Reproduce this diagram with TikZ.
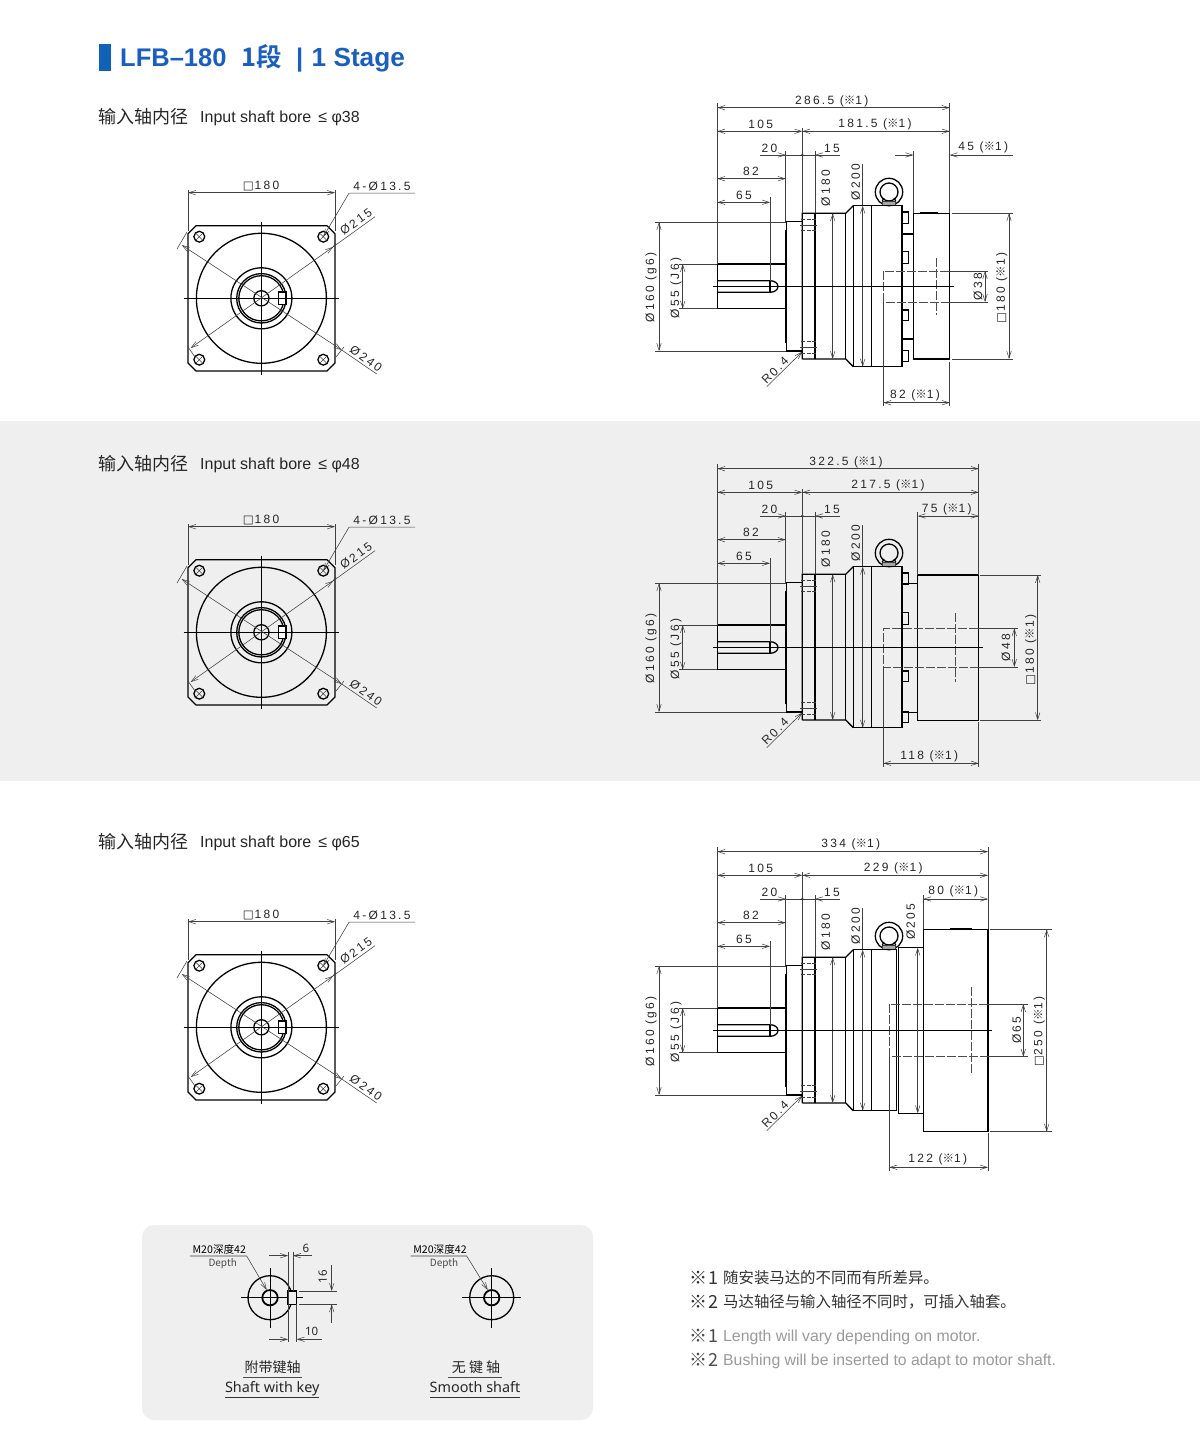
\documentclass[tikz,border=0pt]{standalone}
\usepackage{fontspec}
\usetikzlibrary{arrows.meta}
\setmainfont{Liberation Sans}
\newfontfamily\cjk{Noto Sans CJK SC}
\newfontfamily\cjkb{Noto Sans CJK SC Bold}
\newfontfamily\symf{DejaVu Sans}
\newfontfamily\dimfont[LetterSpace=19]{Liberation Sans}
\newfontfamily\panelfont{Noto Sans}
\definecolor{band}{HTML}{EFEFEF}
\definecolor{bluetitle}{HTML}{1B5FBE}
\definecolor{bluebar}{HTML}{0F62B5}
\definecolor{notegray}{HTML}{9A9A9A}
\newcommand\km{{\cjkb\fontsize{11.5}{10}\selectfont ※}}
\newcommand\sq{{\symf\fontsize{11.5}{10}\selectfont □}\hspace{1pt}}
\tikzset{
  outl/.style={line width=1.3pt,draw=black,line join=miter},
  thick2/.style={line width=2.2pt,draw=black},
  dimln/.style={line width=.55pt,draw=black!75},
  cent/.style={line width=.7pt,draw=black},
  hid/.style={line width=.8pt,draw=black!70,dash pattern=on 9pt off 2pt},
  tipb/.tip={Straight Barb[length=7pt,width=4.5pt,line width=.5pt]},
  dimb/.style={dimln,{tipb}-{tipb}},
  dime/.style={dimln,-{tipb}},
  dimtxt/.style={inner sep=0pt,font=\dimfont\fontsize{12}{12}\selectfont,text=black!85},
  pdim/.style={inner sep=0pt,font=\panelfont\fontsize{11.5}{11}\selectfont,text=black!85},
  lead/.style={inner sep=0pt,font=\cjk\fontsize{10.6}{11}\selectfont,text=black},
  subcn/.style={inner sep=0pt,anchor=base west,font=\cjk\fontsize{18}{18}\selectfont,text=black!85},
  suben/.style={inner sep=0pt,anchor=base west,font=\fontsize{16}{16}\selectfont,text=black!85},
  capcn/.style={inner sep=0pt,font=\cjk\fontsize{14}{14}\selectfont,text=black!85},
  capen/.style={inner sep=0pt,anchor=base,font=\panelfont\fontsize{14.4}{15}\selectfont,text=black!85},
  titl/.style={inner sep=0pt,anchor=base west,font=\bfseries\fontsize{25.5}{26}\selectfont,text=bluetitle},
  notecn/.style={inner sep=0pt,anchor=west,font=\cjk\fontsize{15.4}{16}\selectfont,text=black!80},
  noteen/.style={inner sep=0pt,anchor=base west,font=\fontsize{15.8}{16}\selectfont,text=notegray},
  notekm/.style={inner sep=0pt,anchor=west,font=\cjk\fontsize{18}{18}\selectfont}
}
\newcommand\dimt[4][0]{\node[dimtxt,rotate=#1] at (#2,#3) {#4};}
% front (flange) view; #1 = vertical shift
\newcommand\frontview[1]{%
\begin{scope}[shift={(0,#1)}]
  \draw[outl] (196,225.7)--(327,225.7)--(335,233.7)--(335,363)--(327,371)--(196,371)--(188,363)--(188,233.7)--cycle;
  \draw[outl] (261.4,298.3) circle[radius=65];
  \draw[outl] (261.4,298.3) circle[radius=30.5];
  \draw[outl] (261.4,298.3) circle[radius=24.7];
  \draw[outl] (261.4,298.3) circle[radius=22.6];
  \draw[outl] (261.4,298.3) circle[radius=7.6];
  \draw[outl,fill=white] (278.7,292)rectangle(286,304.3);
  \foreach \hx/\hy in {199.3/236.7,323.3/236.7,199.3/359.7,323.3/359.7}{
    \draw[outl] (\hx,\hy) circle[radius=5.4];
    \draw[dimln] (\hx-3.8,\hy-3.8)--(\hx+3.8,\hy+3.8) (\hx-3.8,\hy+3.8)--(\hx+3.8,\hy-3.8);
  }
  \draw[cent] (183.7,298.3)--(339,298.3) (261.4,221.7)--(261.4,375);
  \draw[dimb] (188,192.7)--(335,192.7);
  \draw[dimln] (188,190)--(188,231) (335,190)--(335,231);
  \dimt{261}{185.7}{\sq 180}
  \draw[dimln,{tipb}-] (323.3,236.7)--(349,193.2)--(415,193.2);
  \dimt{382}{186}{4-Ø13.5}
  \draw[dimb] (190.7,348)--(333,247);
  \draw[dimln] (333,247)--(375,216.7) (188,347)--(195,357) (332,248)--(336,243);
  \node[dimtxt,rotate=36] at (356,222) {Ø215};
  \draw[dimb] (181.7,245)--(341.7,350);
  \draw[dimln] (341.7,350)--(376.7,374) (187,232)--(177,249) (336,357)--(344,347);
  \node[dimtxt,rotate=-36] at (366,358.5) {Ø240};
\end{scope}}
% part of the side view shared by the three drawings
\newcommand\sidecommon[1]{%
\begin{scope}[shift={(0,#1)}]
  \draw[outl] (785,264)--(717.3,264)--(717.3,308.7)--(785,308.7);
  \draw[outl] (717.3,280.7)--(770,280.7) arc[start angle=-90,end angle=90,x radius=8,y radius=5.8]--(717.3,292.3);
  \draw[outl] (770,280.7)--(770,292.3);
  \draw[thick2] (785.7,230)--(785.7,343.3);
  \draw[outl] (785.7,230)--(786.7,230)--(786.7,221.7)--(802.3,221.7) (785.7,343.3)--(786.7,343.3)--(786.7,351)--(802.3,351);
  \draw[outl] (802.3,359)--(802.3,213.3)--(845.7,213.3)--(853.3,205.7);
  \draw[outl] (802.3,359)--(845.7,359)--(853.3,366.7);
  \foreach \sx/\sa/\sb in {815/213.3/359,845.7/213.3/359,853.3/205.7/366.7,871.7/205.7/366.7}{\draw[outl] (\sx,\sa)--(\sx,\sb);}
  \draw[dimln,dash pattern=on 4pt off 1.5pt] (801,219.3)--(816.7,219.3) (801,230.7)--(816.7,230.7) (801,341.7)--(816.7,341.7) (801,353)--(816.7,353);
  \draw[dimln] (800,225)--(817,225) (800,347.3)--(817,347.3);
  % eye bolt
  \draw[outl] (889,192) circle[radius=13.7];
  \draw[outl] (889,192) circle[radius=9];
  \draw[dimln,fill=black!35] (882.3,201)rectangle(895.7,205.7);
  \draw[outl] (884,198)--(882.3,201) (894,198)--(895.7,201);
  % common dimensions
  \draw[dimb] (717.3,131.3)--(802.3,131.3);
  \dimt{760.7}{124}{105}
  \draw[dime] (760,155)--(785.7,155);
  \draw[dime] (840,155)--(815,155);
  \draw[dimln] (785.7,155)--(815,155);
  \fill (802.3,155) circle[radius=1.2];
  \dimt{769.5}{148}{20}
  \dimt{832}{148}{15}
  \draw[dimb] (717.3,178.7)--(785.7,178.7);
  \dimt{751}{171}{82}
  \draw[dimb] (717.3,202.3)--(770,202.3);
  \dimt{744}{195}{65}
  \draw[dimln] (717.3,103)--(717.3,264) (802.3,127.7)--(802.3,213.3) (785.7,151)--(785.7,221.7) (815,151)--(815,213.3) (770,197)--(770,280.7);
  \draw[dimb] (659,222.3)--(659,351);
  \draw[dimln] (655,222.3)--(786,222.3) (655,351)--(786,351);
  \dimt[90]{651}{287.5}{Ø160 (g6)}
  \draw[dimb] (682.7,264)--(682.7,308.7);
  \draw[dimln] (679,264)--(717,264) (679,308.7)--(717,308.7);
  \dimt[90]{676}{288}{Ø55 (J6)}
  \draw[dimb] (832.7,213.3)--(832.7,359);
  \dimt[90]{825.7}{188}{Ø180}
  \draw[dimb] (862.7,205.7)--(862.7,366.7);
  \draw[dimln] (862.7,164)--(862.7,205.7);
  \dimt[90]{855.7}{182.3}{Ø200}
  \draw[dime] (766.7,386.7)--(802.3,351.7);
  \dimt[45]{775}{370.5}{R0.4}
\end{scope}}
\newcommand\bolts[1]{%
\begin{scope}[shift={(0,#1)}]
  \foreach \ba/\bb in {212/223.3,251.3/263.3,310/320.7,350.7/361.7}{\draw[outl] (902,\ba)rectangle(908.7,\bb);}
\end{scope}}
\begin{document}
\begin{tikzpicture}[x=1pt,y=-1pt]
\useasboundingbox (0,0) rectangle (1200,1450);
\fill[white] (0,0) rectangle (1200,1450);
\fill[band] (0,421) rectangle (1200,781);
\fill[band,rounded corners=12pt] (142,1225) rectangle (593,1420);
% title
\fill[bluebar] (99,44) rectangle (111,71);
\node[titl] at (120,67) {LFB–180};
\node[titl,font=\cjkb\fontsize{25.5}{26}\selectfont] at (241,67) {1段};
\node[titl] at (296,67) {|};
\node[titl,font=\bfseries\fontsize{26.2}{26}\selectfont] at (311.5,67) {1 Stage};
% subtitles
\foreach \sy/\bore in {116/38,463/48,841/65}{
  \node[subcn] at (98,\sy+7.2) {输入轴内径};
  \node[suben] at (200,\sy+6.5) {Input shaft bore\hspace{7pt}≤ φ\bore};
}
\frontview{0}
\frontview{334}
\frontview{729}
%% side view 1
\sidecommon{0}
\draw[outl] (853.3,205.7)--(902,205.7)--(902,366.7)--(853.3,366.7);
\bolts{0}
\draw[outl] (902,234)--(913.3,234) (902,339)--(913.3,339);
\draw[outl] (913.3,213.3) rectangle (949.7,359);
\draw[thick2] (920,213)--(938,213);
\draw[hid] (949,271)--(883.3,271)--(883.3,302)--(949,302);
\draw[hid] (936.7,258)--(936.7,315);
\draw[cent] (713.3,286.3)--(954,286.3);
\draw[dimb] (717.3,107.7)--(949.7,107.7);
\dimt{831.7}{101}{286.5 (\km 1)}
\draw[dimb] (802.3,131.3)--(949.7,131.3);
\dimt{875}{124}{181.5 (\km 1)}
\draw[dime] (895,155)--(913.3,155);
\draw[dime] (1012.7,155)--(949.7,155);
\dimt{983.3}{147.3}{45 (\km 1)}
\draw[dimln] (913.3,151)--(913.3,213.3) (949.7,103)--(949.7,213.3);
\draw[dimb] (1009,213.3)--(1009,359);
\draw[dimln] (951.7,213.3)--(1012.7,213.3) (951.7,359)--(1012.7,359);
\dimt[90]{1001.7}{288}{\sq 180 (\km 1)}
\draw[dimb] (985,271)--(985,302);
\draw[dimln] (949,271)--(988,271) (949,302)--(988,302);
\dimt[90]{978}{286.5}{Ø38}
\draw[dimb] (883.3,402.7)--(949.7,402.7);
\draw[dimln] (883.3,302)--(883.3,406) (949.7,361.7)--(949.7,406);
\dimt{915}{395}{82 (\km 1)}
%% side view 2
\sidecommon{361}
\draw[outl] (853.3,566.7)--(902,566.7)--(902,727.7)--(853.3,727.7);
\bolts{361}
\draw[outl] (902,583.3)--(917.7,583.3) (902,712.3)--(917.7,712.3);
\draw[outl] (917.7,575) rectangle (978.7,720.3);
\draw[thick2] (934,574.7)--(956,574.7);
\draw[hid] (978,628.3)--(883.3,628.3)--(883.3,667)--(978,667);
\draw[hid] (955,613.3)--(955,682.3);
\draw[cent] (713.3,647.3)--(982.7,647.3);
\draw[dimb] (717.3,468.7)--(978.7,468.7);
\dimt{846}{462}{322.5 (\km 1)}
\draw[dimb] (802.3,492.3)--(978.7,492.3);
\dimt{888}{485}{217.5 (\km 1)}
\draw[dimb] (917.7,516)--(978.7,516);
\dimt{946.7}{509}{75 (\km 1)}
\draw[dimln] (917.7,511.7)--(917.7,575) (978.7,464)--(978.7,575);
\draw[dimb] (1037.7,575)--(1037.7,720.3);
\draw[dimln] (980,575)--(1041,575) (980,720.3)--(1041,720.3);
\dimt[90]{1030.7}{650}{\sq 180 (\km 1)}
\draw[dimb] (1014.3,628.3)--(1014.3,667);
\draw[dimln] (978,628.3)--(1018.3,628.3) (978,667)--(1018.3,667);
\dimt[90]{1006}{647.5}{Ø48}
\draw[dimb] (883.3,763.3)--(978.7,763.3);
\draw[dimln] (883.3,667)--(883.3,767) (978.7,722)--(978.7,767);
\dimt{929.3}{756}{118 (\km 1)}
%% side view 3
\sidecommon{744}
\draw[outl] (853.3,949.7)--(896.7,949.7)--(896.7,1110.7)--(853.3,1110.7);
\draw[outl] (898.3,947.7)--(923.3,947.7) (898.3,1113.3)--(923.3,1113.3);
\draw[outl] (898.3,947.7)--(898.3,1113.3);
\draw[outl] (923.3,929.3) rectangle (988,1131.7);
\draw[thick2] (950,929)--(972.3,929);
\draw[hid] (988,1004)--(889.3,1004)--(889.3,1056.7)--(988,1056.7);
\draw[hid] (971.7,986.7)--(971.7,1073.3);
\draw[cent] (713.3,1030.3)--(991.7,1030.3);
\draw[dimb] (717.3,851.7)--(988,851.7);
\dimt{850.7}{844.7}{334 (\km 1)}
\draw[dimb] (802.3,875.3)--(988,875.3);
\dimt{893.3}{868}{229 (\km 1)}
\draw[dimb] (923.3,899)--(988,899);
\dimt{953.3}{891.7}{80 (\km 1)}
\draw[dimln] (923.3,895)--(923.3,929.3) (988,847)--(988,929.3);
\draw[dimb] (1046.7,929.3)--(1046.7,1131.7);
\draw[dimln] (990,929.3)--(1052,929.3) (990,1131.7)--(1052,1131.7);
\dimt[90]{1039.3}{1031.7}{\sq 250 (\km 1)}
\draw[dimb] (1023.3,1004)--(1023.3,1056.7);
\draw[dimln] (988,1004)--(1027.7,1004) (988,1056.7)--(1027.7,1056.7);
\dimt[90]{1016.7}{1030}{Ø65}
\draw[dimb] (917.7,947.7)--(917.7,1113.3);
\dimt[90]{910.7}{921.7}{Ø205}
\draw[dimb] (889.3,1167.3)--(988,1167.3);
\draw[dimln] (889.3,1056.7)--(889.3,1171) (988,1133)--(988,1171);
\dimt{937.7}{1159.3}{122 (\km 1)}
%% shaft with key
\draw[outl] (270,1297.7) circle[radius=22];
\draw[line width=1.8pt] (270,1297.7) circle[radius=7.7];
\draw[cent] (241,1297.7)--(303,1297.7) (270,1267.7)--(270,1327.7);
\draw[outl,fill=band] (288,1291) rectangle (296.7,1304.3);
\draw[dimln] (288,1251.7)--(288,1341.7) (293,1251.7)--(293,1291) (296.7,1304.3)--(296.7,1341.7);
\draw[dime] (269.3,1255.7)--(288,1255.7);
\draw[dime] (311.7,1255.7)--(293,1255.7);
\node[pdim] at (306,1248.5) {6};
\draw[dime] (269.3,1339.3)--(288,1339.3);
\draw[dime] (321.7,1339.3)--(296.7,1339.3);
\node[pdim] at (311.7,1331) {10};
\draw[dime] (331.7,1265)--(331.7,1291);
\draw[dime] (331.7,1322.7)--(331.7,1304.3);
\draw[dimln] (299.3,1291)--(336.7,1291) (299.3,1304.3)--(336.7,1304.3);
\node[pdim,rotate=90] at (322.7,1276.7) {16};
\draw[dimln,{tipb}-] (266.7,1290)--(246.7,1256)--(190,1256);
\node[lead] at (219.3,1249) {M20深度42};
\node[lead,font=\cjk\fontsize{10}{10}\selectfont,text=black!70] at (222.7,1264) {Depth};
%% smooth shaft
\draw[outl] (491.7,1297.7) circle[radius=22];
\draw[line width=1.8pt] (491.7,1297.7) circle[radius=7.7];
\draw[cent] (462,1297.7)--(521,1297.7) (491.7,1267.7)--(491.7,1327.7);
\draw[dimln,{tipb}-] (487.7,1290)--(466.7,1256)--(410.7,1256);
\node[lead] at (440,1249) {M20深度42};
\node[lead,font=\cjk\fontsize{10}{10}\selectfont,text=black!70] at (444,1264) {Depth};
%% captions
\node[capcn] at (272.7,1366.7) {附带键轴};
\draw[line width=.6pt,black!70] (242.7,1377)--(301.7,1377);
\node[capen] at (272.3,1392.5) {Shaft with key};
\draw[line width=.7pt,black!80] (225,1397.3)--(318.5,1397.3);
\node[capcn] at (476,1366.7) {无 键 轴};
\draw[line width=.6pt,black!70] (448.3,1377)--(502.3,1377);
\node[capen] at (475,1392.5) {Smooth shaft};
\draw[line width=.7pt,black!80] (430,1397.3)--(520,1397.3);
%% notes
\node[notekm,text=black!80] at (689,1278) {※\hspace{1pt}\fontsize{18}{18}\selectfont 1};
\node[notecn] at (723,1278) {随安装马达的不同而有所差异。};
\node[notekm,text=black!80] at (689,1301.5) {※\hspace{1pt}\fontsize{18}{18}\selectfont 2};
\node[notecn] at (723,1301.5) {马达轴径与输入轴径不同时，可插入轴套。};
\node[notekm,text=black!70] at (689,1336) {※\hspace{1pt}\fontsize{18}{18}\selectfont 1};
\node[noteen] at (723,1341.5) {Length will vary depending on motor.};
\node[notekm,text=black!70] at (689,1360) {※\hspace{1pt}\fontsize{18}{18}\selectfont 2};
\node[noteen] at (723,1365.5) {Bushing will be inserted to adapt to motor shaft.};
\end{tikzpicture}
\end{document}
